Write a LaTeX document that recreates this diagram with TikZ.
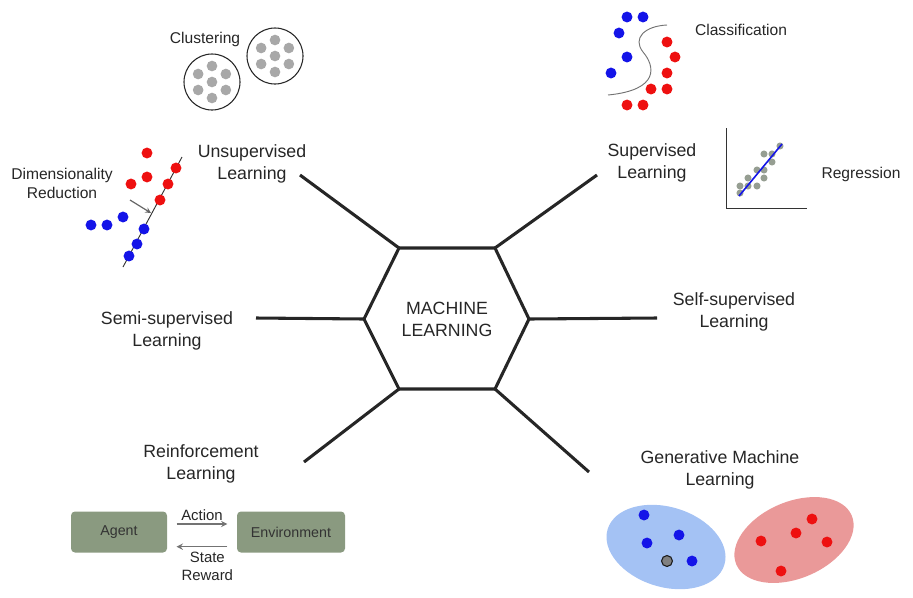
\documentclass[tikz,border=0pt]{standalone}
\usepackage{fontspec}
\setmainfont{Liberation Sans}
\usepackage{tikz}
\usetikzlibrary{arrows,shapes,positioning}
\usepackage{xcolor}
\definecolor{mlblue}{RGB}{20,20,232}
\definecolor{mlred}{RGB}{238,16,16}
\definecolor{mlgray}{RGB}{168,168,168}
\definecolor{reggray}{RGB}{150,158,146}
\definecolor{agentgreen}{RGB}{138,154,128}
\definecolor{genblue}{RGB}{164,194,244}
\definecolor{genred}{RGB}{234,153,153}
\tikzstyle{spoke} = [line width=2.3pt, color=black!85]
\tikzstyle{topic} = [align=center, text=black!85, font=\fontsize{13.3}{16.5}\selectfont]
\tikzstyle{small} = [align=center, text=black!85, font=\fontsize{11.7}{14.3}\selectfont]
\tikzstyle{dot} = [circle, inner sep=0pt, minimum size=8.2pt]
\tikzstyle{reddot} = [dot, fill=mlred]
\tikzstyle{bluedot} = [dot, fill=mlblue]
\tikzstyle{graydot} = [dot, fill=mlgray, minimum size=8pt]
\tikzstyle{regdot} = [dot, fill=reggray, minimum size=5.3pt]
\tikzstyle{cluster} = [circle, draw=black!85, line width=0.8pt, minimum size=42pt]
\tikzstyle{agentbox} = [rectangle, rounded corners=3pt, fill=agentgreen, text=black!80,
  minimum width=72pt, minimum height=30.75pt, font=\fontsize{10.7}{13}\selectfont]
\tikzstyle{genblob} = [ellipse, inner sep=0pt]
\tikzstyle{rlarrow} = [line width=1.1pt, ->, >=stealth, color=black!55, shorten <=7pt, shorten >=7pt]
\tikzstyle{projarrow} = [line width=0.9pt, ->, >=stealth, color=black!60]

\begin{document}
\begin{tikzpicture}[x=0.75pt, y=-0.75pt]
\useasboundingbox (0,0) rectangle (913,597);

% Hexagon
\coordinate (hTL) at (399,248);
\coordinate (hTR) at (495,248);
\coordinate (hR) at (529,319);
\coordinate (hBR) at (495,389);
\coordinate (hBL) at (399,389);
\coordinate (hL) at (364,319);
\draw[spoke] (hTL) -- (hTR) -- (hR) -- (hBR) -- (hBL) -- (hL) -- cycle;
\node[topic] (ml) at (447,319) {MACHINE\\LEARNING};

% Spokes
\coordinate (eUnsup) at (300,175);
\coordinate (eSup) at (597,175);
\coordinate (eSemi) at (256,318);
\coordinate (eSelf) at (657,318);
\coordinate (eReinf) at (304,462);
\coordinate (eGen) at (589,472);
\draw[spoke] (hTL) -- (eUnsup);
\draw[spoke] (hTR) -- (eSup);
\draw[spoke] (hL) -- (eSemi);
\draw[spoke] (hR) -- (eSelf);
\draw[spoke] (hBL) -- (eReinf);
\draw[spoke] (hBR) -- (eGen);

% Labels
\node[topic] (unsup) at (252,164) {Unsupervised\\Learning};
\node[topic] (sup) at (652,163) {Supervised\\Learning};
\node[topic] (semi) at (167,331) {Semi-supervised\\Learning};
\node[topic] (self) at (734,312) {Self-supervised\\Learning};
\node[topic] (reinf) at (201,464) {Reinforcement\\Learning};
\node[topic] (gen) at (720,470) {Generative Machine\\Learning};

% Clustering
\node[small] (clustering) at (205,39) {Clustering};
\node[cluster] (clusterA) at (212,82) {};
\node[cluster] (clusterB) at (275,56) {};
\foreach \c in {clusterA,clusterB} {
  \node[graydot] (\c-0) at (\c.center) {};
  \foreach \a in {30,90,...,330}
    \node[graydot] (\c-\a) at ([shift={(\a:16)}]\c.center) {};
}

% Dimensionality reduction
\node[small] (dimred) at (62,183) {Dimensionality\\Reduction};
\coordinate (axisLo) at (123,267);
\coordinate (axisHi) at (182,157);
\draw[line width=0.7pt, black!80] (axisLo) -- (axisHi);
\foreach \x/\y [count=\i] in {147/153,147/177,131/184,176/168,168/184,160/200}
  \node[reddot] (dr\i) at (\x,\y) {};
\foreach \x/\y [count=\i] in {91/225,107/225,123/217,144/229,137/244,129/256}
  \node[bluedot] (db\i) at (\x,\y) {};
\coordinate (projFrom) at (130,200);
\coordinate (projTo) at (151,213);
\draw[projarrow] (projFrom) -- (projTo);

% Classification
\node[small] (classif) at (741,30) {Classification};
\draw[black!55, line width=0.7pt] (667,25) .. controls (645,26) and (632,38) .. (643,52)
  .. controls (655,66) and (660,90) .. (608,95);
\foreach \x/\y [count=\i] in {627/17,643/17,619/33,627/57,611/73}
  \node[bluedot] (cb\i) at (\x,\y) {};
\foreach \x/\y [count=\i] in {667/42,675/57,667/73,651/89,667/89,627/105,643/105}
  \node[reddot] (cr\i) at (\x,\y) {};

% Regression
\node[small] (regress) at (861,174) {Regression};
\coordinate (axTop) at (726,128);
\coordinate (axOrigin) at (726,208);
\coordinate (axRight) at (807,208);
\draw[black!80, line width=0.7pt] (axTop) -- (axOrigin) -- (axRight);
\foreach \x/\y [count=\i] in {780/146,764/154,772/154,772/162,757/170,764/170,
  748/178,764/178,740/186,748/186,757/186,740/193}
  \node[regdot] (rg\i) at (\x,\y) {};
\coordinate (fitLo) at (739,196);
\coordinate (fitHi) at (782,144);
\draw[mlblue, line width=1.2pt] (fitLo) -- (fitHi);

% Agent and environment
\node[agentbox] (agent) at (119,532) {Agent};
\node[agentbox, minimum width=81pt] (env) at (291,532) {Environment};
\draw[rlarrow] ([yshift=6pt]agent.east) -- node[small, above=-1pt, font=\fontsize{11.2}{13.8}\selectfont] (action) {Action} ([yshift=6pt]env.west);
\draw[rlarrow] ([yshift=-11pt]env.west) -- node[small, below=0pt, xshift=4pt, font=\fontsize{11.2}{13.8}\selectfont] (state) {State\\Reward} ([yshift=-11pt]agent.east);

% Generative clusters
\node[genblob, fill=genblue, rotate=-17, minimum width=91.5pt, minimum height=60pt] (genA) at (666,547) {};
\node[genblob, fill=genred, rotate=23, minimum width=94pt, minimum height=57.5pt] (genB) at (794,540) {};
\foreach \x/\y [count=\i] in {644/515,679/535,647/543,692/561}
  \node[bluedot] (gb\i) at (\x,\y) {};
\node[dot, fill=black!50, draw=black!90, line width=0.8pt] (newpt) at (667,561) {};
\foreach \x/\y [count=\i] in {812/519,796/533,761/541,827/542,781/571}
  \node[reddot] (gr\i) at (\x,\y) {};
\end{tikzpicture}
\end{document}
